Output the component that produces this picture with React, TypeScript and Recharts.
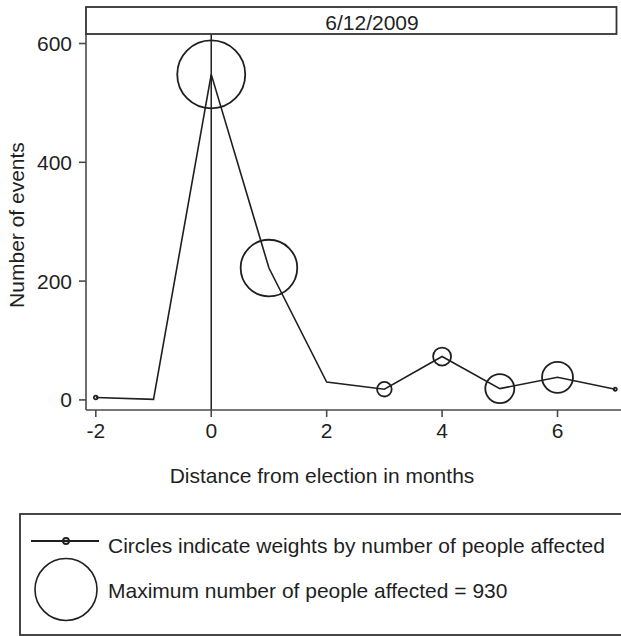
import { ComposedChart, Line, Scatter, XAxis, YAxis, ZAxis, ReferenceLine } from 'recharts';

const months = [-2, -1, 0, 1, 2, 3, 4, 5, 6, 7];
const events = [4, 1, 548, 222, 30, 18, 73, 19, 38, 18];
const peopleAffected = [3, 0, 930, 644, 0, 43, 65, 169, 193, 2];

const xTicks = [-2, 0, 2, 4, 6];
const yTicks = [0, 200, 400, 600];
const panelTitle = '6/12/2009';
const maxPeople = 930;

const rows = months.map((m, i) => ({ x: m, y: events[i], w: peopleAffected[i] }));

const FONT = '"Liberation Sans", Arial, Helvetica, sans-serif';
const INK = '#1f1f1f';
const AXIS = '#4a4a4a';

const W = 621;
const H = 636;
const MAX_R = 34;

export default function App() {
  const tickStyle = { fontSize: 21, fill: INK, fontFamily: FONT };

  return (
    <div style={{ position: 'absolute', left: 0, top: 0, width: W, height: H, background: '#fff' }}>
      <ComposedChart
        width={W}
        height={H}
        data={rows}
        margin={{ top: 34, right: 0, left: 0, bottom: 196 }}
      >
        <XAxis
          dataKey="x"
          type="number"
          domain={[-2.17, 7.1]}
          ticks={xTicks}
          allowDataOverflow
          height={30}
          tick={tickStyle}
          tickSize={7}
          tickMargin={6}
          stroke={AXIS}
          strokeWidth={1.6}
        />
        <YAxis
          type="number"
          domain={[-17, 616]}
          ticks={yTicks}
          allowDataOverflow
          width={86}
          tick={tickStyle}
          tickSize={7}
          tickMargin={7}
          stroke={AXIS}
          strokeWidth={1.6}
        />
        <ZAxis dataKey="w" type="number" domain={[0, maxPeople]} range={[0, Math.PI * MAX_R * MAX_R]} />
        <ReferenceLine x={0} stroke={INK} strokeWidth={1.5} />
        <Line
          dataKey="y"
          type="linear"
          stroke={INK}
          strokeWidth={1.6}
          dot={false}
          activeDot={false}
          isAnimationActive={false}
        />
        <Scatter
          dataKey="y"
          shape="circle"
          fill="none"
          stroke={INK}
          strokeWidth={1.8}
          isAnimationActive={false}
        />
      </ComposedChart>

      <svg
        width={W}
        height={H}
        style={{ position: 'absolute', left: 0, top: 0, pointerEvents: 'none' }}
        fontFamily={FONT}
        fontSize={21}
        fill={INK}
      >
        {/* panel title strip */}
        <rect x={86} y={7} width={530.5} height={27} fill="#fff" stroke="#333" strokeWidth={1.8} />
        <text x={372} y={30}>
          <tspan textAnchor="middle">{panelTitle}</tspan>
        </text>

        {/* axis titles */}
        <text x={322} y={483} textAnchor="middle">
          Distance from election in months
        </text>
        <text x={24} y={225} textAnchor="middle" transform="rotate(-90 24 225)">
          Number of events
        </text>

        {/* legend */}
        <rect x={20} y={514} width={612} height={121} fill="none" stroke="#333" strokeWidth={1.8} />
        <line x1={31} y1={541} x2={99} y2={541} stroke={INK} strokeWidth={1.8} />
        <circle cx={66} cy={541} r={3} fill="none" stroke={INK} strokeWidth={1.8} />
        <text x={108} y={553}>Circles indicate weights by number of people affected</text>
        <circle cx={66} cy={589.5} r={31} fill="none" stroke={INK} strokeWidth={1.6} />
        <text x={108} y={598}>Maximum number of people affected = {maxPeople}</text>
      </svg>
    </div>
  );
}
